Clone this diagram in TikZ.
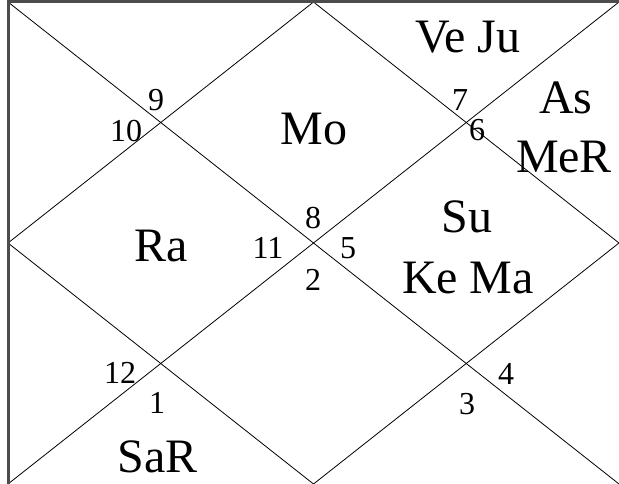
\documentclass[tikz,border=0pt]{standalone}
\usepackage{fontspec}
\setmainfont{Liberation Serif}
\begin{document}
\begin{tikzpicture}[x=1pt,y=-1pt,
  ln/.style={line width=0.8pt,black},
  frame/.style={line width=3pt,draw=black!70},
  big/.style={font=\fontsize{48}{52}\selectfont,inner sep=0pt},
  num/.style={font=\fontsize{32}{34}\selectfont,inner sep=0pt}]
\useasboundingbox (0,0) rectangle (619,484);
\fill[white] (0,0) rectangle (619,484);
\coordinate (TL) at (8,2);
\coordinate (TR) at (619,2);
\coordinate (BL) at (8,484);
\coordinate (BR) at (619,484);
\coordinate (T) at (313.5,2);
\coordinate (B) at (313.5,484);
\coordinate (L) at (8,243);
\coordinate (R) at (619,243);
\draw[ln] (TL) -- (BR);
\draw[ln] (TR) -- (BL);
\draw[ln] (T) -- (R) -- (B) -- (L) -- cycle;
\draw[frame] (BL) -- (TL) -- (TR);
% planets
\node[big] (veju) at (468,37) {Ve Ju};
\node[big] (as) at (566,98) {As};
\node[big] (mer) at (564,157) {MeR};
\node[big] (mo) at (314,129) {Mo};
\node[big] (su) at (467,217) {Su};
\node[big] (kema) at (468,278) {Ke Ma};
\node[big] (ra) at (161,246) {Ra};
\node[big] (sar) at (158,457) {SaR};
% house numbers
\node[num] (n9) at (156,100) {9};
\node[num] (n10) at (126,131) {10};
\node[num] (n7) at (460,100) {7};
\node[num] (n6) at (477,130) {6};
\node[num] (n8) at (313,218) {8};
\node[num] (n11) at (268,248) {11};
\node[num] (n5) at (348,248) {5};
\node[num] (n2) at (313,280) {2};
\node[num] (n12) at (120,373) {12};
\node[num] (n1) at (157,403) {1};
\node[num] (n4) at (506,374) {4};
\node[num] (n3) at (467,404) {3};
\end{tikzpicture}
\end{document}
